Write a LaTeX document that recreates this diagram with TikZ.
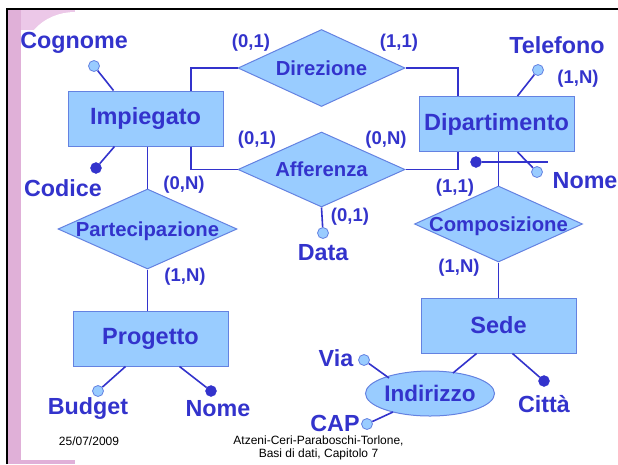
\documentclass[tikz,border=0pt]{standalone}
\usepackage{fontspec}
\setmainfont{Liberation Sans}
\usetikzlibrary{shapes.geometric,calc}
\definecolor{tblue}{RGB}{51,51,204}
\definecolor{boxfill}{RGB}{153,204,255}
\definecolor{boxline}{RGB}{100,130,225}
\definecolor{pinkband}{RGB}{224,176,216}
\definecolor{pinklight}{RGB}{236,200,232}
\newcommand{\reltext}[1]{\raisebox{-0.36em}[0pt][0pt]{#1}}
\tikzset{
  ent/.style={rectangle, fill=boxfill, draw=boxline, line width=1pt, minimum width=155pt, minimum height=55pt, inner sep=0pt, text=tblue, font=\bfseries\fontsize{23.5}{25}\selectfont},
  rel/.style={diamond, fill=boxfill, draw=boxline, line width=1pt, inner sep=0pt, text=tblue, font=\bfseries\fontsize{20.3}{22}\selectfont},
  card/.style={text=tblue, inner sep=0pt, font=\bfseries\fontsize{18.5}{20}\selectfont},
  attrl/.style={text=tblue, inner sep=0pt, font=\bfseries\fontsize{23.3}{25}\selectfont},
  conn/.style={draw=tblue, line width=1.6pt},
  attro/.style={circle, fill=boxfill, draw=boxline, line width=0.8pt, minimum size=11pt, inner sep=0pt},
  attrf/.style={circle, fill=tblue, draw=tblue, minimum size=11pt, inner sep=0pt},
  foot/.style={text=black, inner sep=0pt, font=\fontsize{12}{13}\selectfont}
}
\begin{document}
\begin{tikzpicture}[x=1pt,y=-1pt]
\useasboundingbox (0,0) rectangle (618,464);
\fill[white] (0,0) rectangle (618,464);
% slide decoration
\fill[pinklight] (8,10) rectangle (75,30);
\fill[white] (34,30) .. controls (44,18) and (60,12) .. (75,12) -- (75,30) -- cycle;
\fill[pinkband] (8,10) rectangle (21,464);
\fill[pinkband] (21,460) rectangle (75,464);
\draw[line width=2.5pt] (7,464) -- (7,9) -- (618,9);

% entities
\node[ent] (imp) at (145.5,118.5) {Impiegato};
\node[ent] (dip) at (496.5,124) {Dipartimento};
\node[ent] (pro) at (150.5,338.5) {Progetto};
\node[ent] (sede) at (498.5,325.5) {Sede};
\node[ellipse, fill=boxfill, draw=boxline, line width=1pt, minimum width=104pt, minimum height=45pt, inner sep=0pt, text=tblue, font=\bfseries\fontsize{22.5}{24}\selectfont] (ind) at (430,393.5) {\reltext{Indirizzo}};

% relationships
\node[rel, aspect=2.17, minimum width=167pt, minimum height=77pt] (dir) at (321.5,68) {\reltext{Direzione}};
\node[rel, aspect=2.23, minimum width=167pt, minimum height=75pt] (aff) at (321.5,169.5) {\reltext{Afferenza}};
\node[rel, aspect=2.24, minimum width=179pt, minimum height=80pt] (par) at (147.5,229) {\reltext{Partecipazione}};
\node[rel, aspect=2.21, minimum width=168pt, minimum height=76pt] (com) at (498.5,224) {\reltext{Composizione}};

% connector helper coordinates
\coordinate (cL) at (191,0);
\coordinate (cR) at (458,0);

\draw[conn] (imp.north -| cL) |- (dir.west);
\draw[conn] (imp.south -| cL) |- (aff.west);
\draw[conn] (dir.east) -| (dip.north -| cR);
\draw[conn] (aff.east) -| (dip.south -| cR);
\draw[conn] (imp.south -| par.north) -- (par.north);
\draw[conn] (par.south) -- (par.south |- pro.north);
\draw[conn] (com.north |- dip.south) -- (com.north);
\draw[conn] (com.south) -- (com.south |- sede.north);
\coordinate (sedeI) at ($(sede.south west)+(56,0)$);
\coordinate (indS) at (453,373);
\draw[conn] (sedeI) -- (indS);

% attributes
\node[attro] (cogc) at (94,66) {};
\node[attrl] (cogl) at (74,43) {Cognome};
\draw[conn] (cogc) -- ($(imp.north west)+(46,0)$);
\node[attrf] (codc) at (96,168) {};
\node[attrl] (codl) at (63,188) {Codice};
\draw[conn] (codc) -- ($(imp.south west)+(47,0)$);

\node[attro] (telc) at (538,70) {};
\node[attrl] (tell) at (557,45) {Telefono};
\draw[conn] (telc) -- ($(dip.north west)+(99,0)$);
\node[card] (ctel) at (578,79) {(1,N)};

\node[attro] (nomc) at (537,172) {};
\node[attrl, anchor=west] (noml) at (552.5,181) {Nome};
\draw[conn] (nomc) -- ($(dip.south west)+(99,0)$);
\node[attrf] (idc) at (476,162) {};
\coordinate (idend) at (548,162);
\draw[conn] (idc) -- (idend);

\node[attro] (datc) at (323,233) {};
\node[attrl] (datl) at (323,253) {Data};
\draw[conn] (aff.south) -- (datc);
\node[card] (cdat) at (350,217) {(0,1)};

\node[attro] (budc) at (98,391) {};
\node[attrl] (budl) at (88,409) {Budget};
\draw[conn] (budc) -- ($(pro.south west)+(53,0)$);
\node[attrf] (pnc) at (211,391) {};
\node[attrl] (pnl) at (218,409) {Nome};
\draw[conn] (pnc) -- ($(pro.south west)+(107,0)$);

\node[attro] (viac) at (364,360) {};
\node[attrl] (vial) at (336,358) {Via};
\draw[conn] (viac) -- (389,378);
\node[attro] (capc) at (367,424) {};
\node[attrl] (capl) at (335,423) {CAP};
\draw[conn] (capc) -- (393,412);

\node[attrf] (citc) at (544,381) {};
\node[attrl] (citl) at (544,404) {Città};
\draw[conn] (citc) -- ($(sede.south west)+(92,0)$);

% cardinalities
\node[card] (c1) at (251,43) {(0,1)};
\node[card] (c2) at (399,43) {(1,1)};
\node[card] (c3) at (257,140) {(0,1)};
\node[card] (c4) at (386,140) {(0,N)};
\node[card] (c5) at (184,185) {(0,N)};
\node[card] (c6) at (185,277) {(1,N)};
\node[card] (c7) at (455,188) {(1,1)};
\node[card] (c8) at (459,268) {(1,N)};

% footer
\node[foot] (date) at (89,441) {25/07/2009};
\node[foot, align=center] (auth) at (318.5,447.5) {Atzeni-Ceri-Paraboschi-Torlone,\\Basi di dati, Capitolo 7};
\end{tikzpicture}
\end{document}
